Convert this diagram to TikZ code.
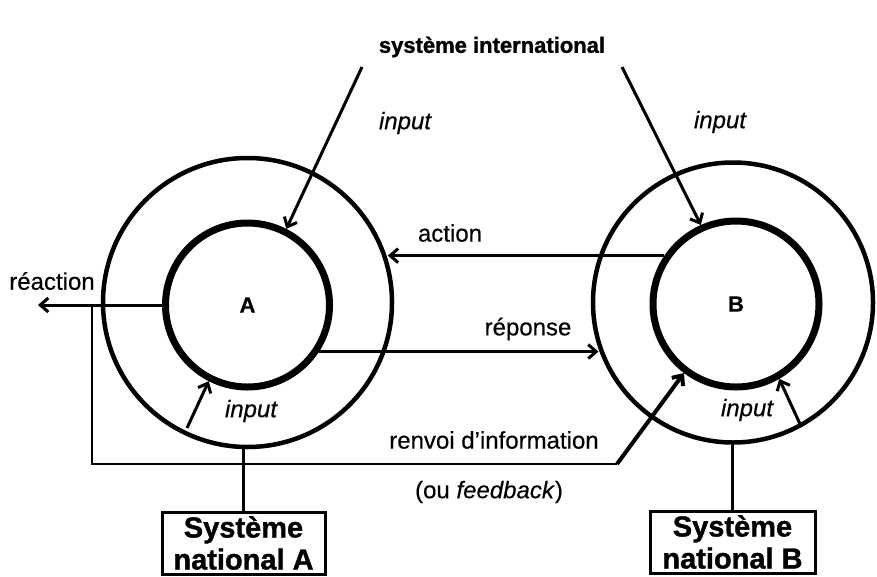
\documentclass[tikz,border=0pt]{standalone}
\usepackage{fontspec}
\setmainfont{Liberation Sans}[FakeBold=0.35]
\newfontfamily\heavyfont{Liberation Sans Bold}[FakeBold=1.2]
\usetikzlibrary{arrows.meta}
\begin{document}
\begin{tikzpicture}[x=1pt,y=-1pt,
  outerc/.style={circle,draw,line width=4.5pt,inner sep=0pt},
  innerc/.style={circle,draw,line width=7pt,inner sep=0pt,font=\fontsize{22}{24}\selectfont\bfseries},
  lbl/.style={font=\fontsize{24}{26}\selectfont, inner sep=0pt},
  ilbl/.style={font=\fontsize{24}{26}\selectfont\itshape, inner sep=0pt},
  sysbox/.style={draw,line width=3pt,minimum width=163pt,minimum height=62pt,align=center,font=\fontsize{29}{32}\heavyfont,inner sep=0pt},
  conn/.style={line width=3pt,-{Straight Barb[length=8pt,width=14pt]}},
  plainline/.style={line width=2.5pt}
]
\fill[white] (0,0) rectangle (877,576);
\useasboundingbox (0,0) rectangle (877,576);

% circles
\node[outerc,minimum size=289pt] (Ao) at (247.5,302.5) {};
\node[innerc,minimum size=164pt] (Ai) at (247.5,305) {A};
\node[outerc,minimum size=280pt] (Bo) at (733,302.5) {};
\node[innerc,minimum size=166pt] (Bi) at (736,304) {B};

% boxes
\node[sysbox] (sysA) at (243.5,543) {Système\\national A};
\node[sysbox,minimum width=165pt] (sysB) at (732.5,542) {Système\\national B};

% labels
\node[font=\fontsize{22}{26}\heavyfont,inner sep=0pt] (title) at (492,47) {système international};
\node[ilbl] (inTA) at (405,123) {input};
\node[ilbl] (inTB) at (720,122) {input};
\node[lbl] (lact) at (450,233) {action};
\node[lbl] (lreac) at (52,281) {réaction};
\node[lbl] (lrep) at (528,329) {réponse};
\node[ilbl] (inBA) at (251,411) {input};
\node[ilbl] (inBB) at (747,410) {input};
\node[lbl] (lrenv) at (494,440) {renvoi d’information};
\node[lbl] (lfeed) at (489,492) {(ou \textit{feedback})};

% free ends
\coordinate (inA) at (362,67);
\coordinate (inB) at (622,67);
\coordinate (inAb) at (187,428);
\coordinate (inBb) at (800,424);
\coordinate (reacEnd) at (38,305);
\coordinate (fb1) at (92,464);
\coordinate (fb2) at (617,464);

% connectors
\draw[conn] (inA) -- (Ai.63);
\draw[conn] (inB) -- (Bi.114.5);
\draw[conn] (Bi.146.4) -- (Bi.146.4 -| Ao.17.7);
\draw[conn] (Ai.-33) -- (Ai.-33 -| Bo.199.7);
\draw[conn] (Ai.west) -- (Ai.west -| reacEnd);
\draw[plainline] (fb1 |- Ai.west) -- (fb1) -- (fb2);
\draw[conn,line width=4pt] (fb2) -- (Bi.233.5);
\draw[conn] (inAb) -- (Ai.243.7);
\draw[conn] (inBb) -- (Bi.-60.9);
\draw[plainline] (sysA.north) -- (sysA.north |- Ao.south);
\draw[plainline] (sysB.north) -- (sysB.north |- Bo.south);
\end{tikzpicture}
\end{document}
